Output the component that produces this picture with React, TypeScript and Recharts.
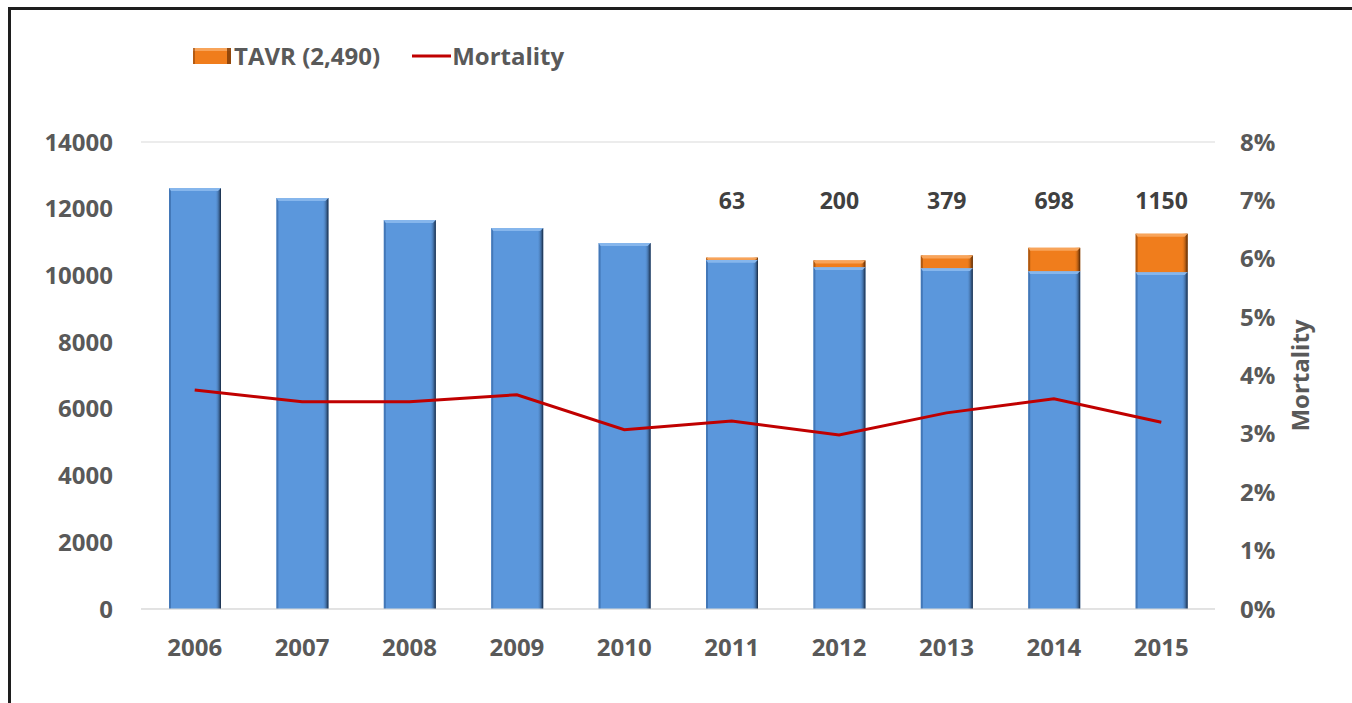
import React from 'react';
import {
  ComposedChart,
  Bar,
  Line,
  XAxis,
  YAxis,
  CartesianGrid,
  Legend,
  LabelList,
} from 'recharts';

// Yearly aortic valve replacement volumes and in-hospital mortality
const years = ['2006', '2007', '2008', '2009', '2010', '2011', '2012', '2013', '2014', '2015'];
const savrCounts = [12620, 12320, 11660, 11420, 10970, 10470, 10250, 10220, 10130, 10100];
const tavrCounts = [0, 0, 0, 0, 0, 63, 200, 379, 698, 1150];
const mortalityPct = [3.75, 3.55, 3.55, 3.67, 3.07, 3.22, 2.98, 3.36, 3.6, 3.2];

const countTicks = [0, 2000, 4000, 6000, 8000, 10000, 12000, 14000];
const pctTicks = [0, 1, 2, 3, 4, 5, 6, 7, 8];

const data = years.map((year, i) => ({
  year,
  savr: savrCounts[i],
  tavr: tavrCounts[i] > 0 ? tavrCounts[i] : null,
  mortality: mortalityPct[i],
}));

const FONT = '"Open Sans", "Liberation Sans", sans-serif';
const AXIS_GRAY = '#595959';
const BLUE = '#5b97dc';
const ORANGE = '#f07d1c';
const RED = '#c00000';
const LABEL_ROW_Y = 200;

type BarShapeProps = {
  x?: number;
  y?: number;
  width?: number;
  height?: number;
};

const makeBevelBar = (fill: string, edgeId: string, top: string, side: string) =>
  (props: BarShapeProps) => {
    const { x = 0, y = 0, width = 0, height = 0 } = props;
    if (!height || height <= 0) return <g />;
    const bevel = Math.min(3, height);
    return (
      <g>
        <rect x={x} y={y} width={width} height={height} fill={fill} />
        <rect x={x} y={y} width={2} height={height} fill={side} opacity={0.55} />
        <rect x={x + width - 6} y={y} width={6} height={height} fill={`url(#${edgeId})`} />
        <polygon
          points={`${x},${y} ${x + width},${y} ${x + width - 3},${y + bevel} ${x + 2},${y + bevel}`}
          fill={top}
        />
      </g>
    );
  };

const BlueBar = makeBevelBar(BLUE, 'blueEdge', '#86b6ec', '#2f5f9a');
const OrangeBar = makeBevelBar(ORANGE, 'orangeEdge', '#f8a45a', '#7a3a08');

const renderLegend = () => (
  <div
    style={{
      display: 'flex',
      alignItems: 'center',
      fontFamily: FONT,
      fontWeight: 700,
      fontSize: 24,
      color: AXIS_GRAY,
      whiteSpace: 'nowrap',
    }}
  >
    <svg width={38} height={16} style={{ marginRight: 3 }}>
      <rect x={0} y={0} width={38} height={16} fill={ORANGE} />
      <rect x={0} y={0} width={38} height={3} fill="#f8a45a" />
      <rect x={34} y={0} width={4} height={16} fill="#7a3a08" opacity={0.8} />
      <rect x={0} y={0} width={2} height={16} fill="#7a3a08" opacity={0.5} />
    </svg>
    <span>TAVR (2,490)</span>
    <svg width={39} height={16} style={{ marginLeft: 32, marginRight: 1 }}>
      <line x1={0} y1={8} x2={39} y2={8} stroke={RED} strokeWidth={3} />
    </svg>
    <span>Mortality</span>
  </div>
);

const renderMortalityTitle = (props: any) => {
  const vb = props.viewBox || { x: 0, y: 0, width: 0, height: 0 };
  const cx = vb.x + 84;
  const cy = vb.y + vb.height / 2;
  return (
    <text
      x={cx}
      y={cy}
      transform={`rotate(-90 ${cx} ${cy})`}
      textAnchor="middle"
      dominantBaseline="central"
      fontFamily={FONT}
      fontWeight={700}
      fontSize={24}
      fill={AXIS_GRAY}
    >
      Mortality
    </text>
  );
};

const renderTavrValue = (props: any) => {
  const { x, width, value } = props;
  if (value === null || value === undefined) return null;
  return (
    <text
      x={Number(x) + Number(width) / 2}
      y={LABEL_ROW_Y}
      textAnchor="middle"
      dominantBaseline="central"
      fontFamily={FONT}
      fontWeight={700}
      fontSize={23}
      fill="#404040"
    >
      {value}
    </text>
  );
};

const tickStyle = { fontFamily: FONT, fontWeight: 700, fontSize: 24, fill: AXIS_GRAY };

export default function App() {
  return (
    <div
      style={{
        position: 'fixed',
        left: 0,
        top: 0,
        width: 1352,
        height: 703,
        background: '#ffffff',
        overflow: 'hidden',
      }}
    >
      <div
        style={{
          position: 'absolute',
          left: 8,
          top: 7,
          width: 1400,
          height: 760,
          borderLeft: '3px solid #1e1e1e',
          borderTop: '3px solid #1e1e1e',
        }}
      />
      <div style={{ position: 'absolute', left: 0, top: 0 }}>
        <ComposedChart
          width={1352}
          height={703}
          data={data}
          margin={{ top: 142, right: 0, bottom: 34, left: 0 }}
        >
          <defs>
            <linearGradient id="blueEdge" x1="0" y1="0" x2="1" y2="0">
              <stop offset="0%" stopColor={BLUE} stopOpacity={0} />
              <stop offset="100%" stopColor="#14253d" stopOpacity={1} />
            </linearGradient>
            <linearGradient id="orangeEdge" x1="0" y1="0" x2="1" y2="0">
              <stop offset="0%" stopColor={ORANGE} stopOpacity={0} />
              <stop offset="100%" stopColor="#4a2203" stopOpacity={1} />
            </linearGradient>
          </defs>
          <CartesianGrid vertical={false} stroke="#d9d9d9" strokeWidth={1} />
          <XAxis
            dataKey="year"
            height={60}
            axisLine={{ stroke: '#d9d9d9' }}
            tickLine={false}
            tickSize={0}
            tickMargin={30}
            tick={tickStyle}
            interval={0}
          />
          <YAxis
            yAxisId="count"
            orientation="left"
            width={141}
            domain={[0, 14000]}
            ticks={countTicks}
            axisLine={false}
            tickLine={false}
            tickSize={0}
            tickMargin={28}
            tick={tickStyle}
          />
          <YAxis
            yAxisId="pct"
            orientation="right"
            width={137}
            domain={[0, 8]}
            ticks={pctTicks}
            axisLine={false}
            tickLine={false}
            tickSize={0}
            tickMargin={25}
            tick={{ ...tickStyle, textAnchor: 'start' }}
            tickFormatter={(v: number) => `${v}%`}
            label={{ content: renderMortalityTitle }}
          />
          <Legend
            layout="horizontal"
            verticalAlign="middle"
            align="center"
            wrapperStyle={{ top: 39, left: 193, width: 'auto' }}
            content={renderLegend}
          />
          <Bar
            yAxisId="count"
            dataKey="savr"
            name="SAVR"
            stackId="avr"
            barSize={52}
            fill={BLUE}
            shape={BlueBar}
            isAnimationActive={false}
          />
          <Bar
            yAxisId="count"
            dataKey="tavr"
            name="TAVR (2,490)"
            stackId="avr"
            barSize={52}
            fill={ORANGE}
            shape={OrangeBar}
            isAnimationActive={false}
          >
            <LabelList dataKey="tavr" content={renderTavrValue} />
          </Bar>
          <Line
            yAxisId="pct"
            dataKey="mortality"
            name="Mortality"
            type="linear"
            stroke={RED}
            strokeWidth={3}
            dot={false}
            activeDot={false}
            isAnimationActive={false}
          />
        </ComposedChart>
      </div>
    </div>
  );
}
